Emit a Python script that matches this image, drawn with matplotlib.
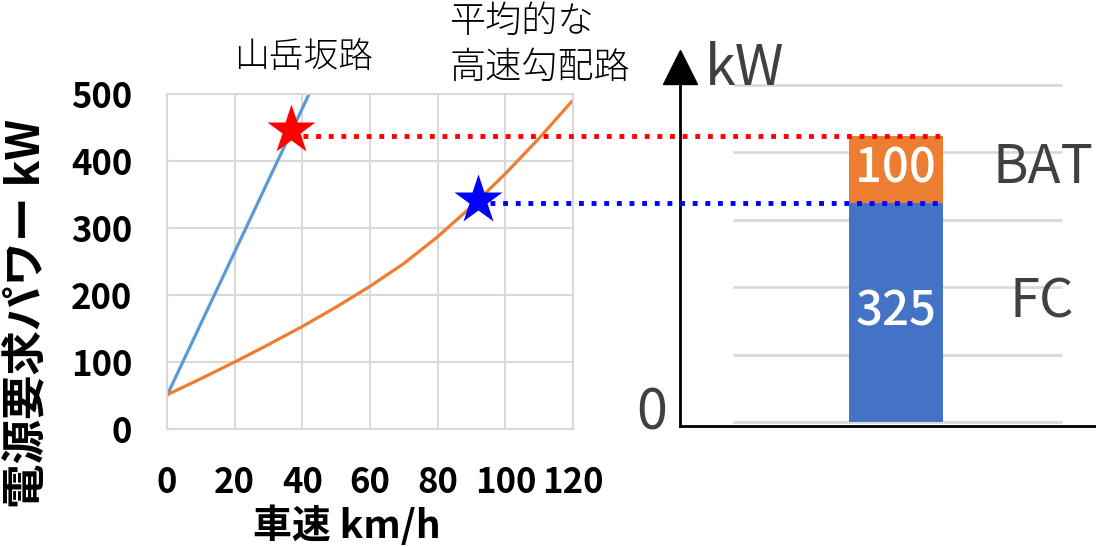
import numpy as np
import matplotlib
matplotlib.use('Agg')
import matplotlib.pyplot as plt

plt.rcParams['font.family'] = ['Noto Sans CJK JP', 'DejaVu Sans']

# 車速 [km/h] と電源要求パワー [kW]
speed_mountain = [0, 42]
power_mountain = [50, 500]
speed_highway = [0, 10, 20, 30, 40, 50, 60, 70, 80, 90, 100, 110, 120]
power_highway = [51, 75, 100, 126, 153, 182, 213, 247, 287, 332, 381, 434, 491]

# 最大要求点
point_mountain = (36.7, 446)
point_highway = (91.9, 342)

# 出力の内訳
fc_power = 325
bat_power = 100

x_ticks = [0, 20, 40, 60, 80, 100, 120]
y_ticks = [0, 100, 200, 300, 400, 500]

ORANGE = '#ED7D31'
BLUE = '#5B9BD5'
FC_BLUE = '#4472C4'
GRID = '#d9d9d9'
DARK = '#404040'

W, H = 1096, 547
fig = plt.figure(figsize=(W / 100, H / 100), dpi=100)

# ---- 左: 車速 vs 要求パワー ----
ax1 = fig.add_axes([167 / W, 1 - 429 / H, (573 - 167) / W, (429 - 94) / H])
ax1.set_zorder(3)
ax1.set_xlim(0, 120)
ax1.set_ylim(0, 500)
ax1.set_xticks(x_ticks)
ax1.set_yticks(y_ticks)
ax1.grid(color=GRID, lw=1.5)
ax1.set_axisbelow(True)
for s in ax1.spines.values():
    s.set_color(GRID)
    s.set_linewidth(1.5)
ax1.tick_params(length=0, labelsize=25)
ax1.tick_params(axis='x', pad=26)
ax1.tick_params(axis='y', pad=25)
for lab in ax1.get_xticklabels() + ax1.get_yticklabels():
    lab.set_fontweight('bold')

ax1.plot(speed_mountain, power_mountain, color=BLUE, lw=2.3)
ax1.plot(speed_highway, power_highway, color=ORANGE, lw=2.3)

# ---- 右: FC / BAT の出力配分 ----
y_top = 560
ax2 = fig.add_axes([680 / W, 1 - 426 / H, (W - 680) / W, (426 - (422 - y_top * 0.674)) / H])
ax2.set_xlim(0, 1)
ax2.set_ylim(-6, y_top)
ax2.set_xticks([])
ax2.set_yticks([])
for side in ['top', 'right']:
    ax2.spines[side].set_visible(False)
for side in ['left', 'bottom']:
    ax2.spines[side].set_color('black')
    ax2.spines[side].set_linewidth(2)
ax2.spines['left'].set_bounds(-6, 508)
ax2.plot([0], [526], marker='^', ms=24, color='black', clip_on=False)

ax2.hlines(y_ticks, 0.127, 0.918, color=GRID, lw=2, zorder=1)

bar_x, bar_w = 0.519, 0.226
ax2.bar(bar_x, fc_power, bar_w, color=FC_BLUE, zorder=2)
ax2.bar(bar_x, bat_power, bar_w, bottom=fc_power, color=ORANGE, zorder=2)
ax2.text(bar_x, fc_power / 2, str(fc_power), color='white', fontsize=34,
         fontweight='medium', ha='center', va='center', zorder=3)
ax2.text(bar_x, fc_power + bat_power / 2, str(bat_power), color='white', fontsize=34,
         fontweight='medium', ha='center', va='center', zorder=3)

ax2.text(0.06, 500, 'kW', fontsize=40, color=DARK, ha='left', va='baseline')
ax2.text(0.75, 378, 'BAT', fontsize=39, color=DARK, ha='left', va='center')
ax2.text(0.793, 178, 'FC', fontsize=39, color=DARK, ha='left', va='center')
ax2.text(-0.031, 12, '0', fontsize=40, color=DARK, ha='right', va='center')

# ---- 要求点から棒グラフへの点線 ----
to_ax1 = ax1.transData.inverted()
x_end = ax2.transData.transform((bar_x + bar_w / 2, 0))[0]
for (sx, sy), level, col in [(point_mountain, fc_power + bat_power, 'red'),
                             (point_highway, fc_power, 'blue')]:
    y_disp = ax2.transData.transform((0, level))[1]
    x0_disp = ax1.transData.transform((sx, sy))[0] + 12
    (x0, y1), (x1, _) = to_ax1.transform([(x0_disp, y_disp), (x_end, y_disp)])
    ax1.plot([x0, x1], [y1, y1], color=col, lw=3.5, ls=(0, (1, 1.6)),
             dash_capstyle='butt', clip_on=False, zorder=4)
    ax1.plot(sx, sy, marker='*', ms=37, color=col, mec='none',
             clip_on=False, zorder=5)

# ---- 軸ラベルと注記 ----
fig.text(27 / W, 1 - 313 / H, '電源要求パワー kW', rotation=90, fontsize=32,
         fontweight='bold', ha='center', va='center')
fig.text(347 / W, 1 - 526 / H, '車速 km/h', fontsize=28, fontweight='bold',
         ha='center', va='center')
fig.text(304 / W, 1 - 57 / H, '山岳坂路', fontsize=25, fontweight='light',
         ha='center', va='center')
fig.text(450 / W, 1 - 45 / H, '平均的な\n高速勾配路', fontsize=26, fontweight='light',
         ha='left', va='center', linespacing=1.25)

fig.savefig('out.png', dpi=100)
